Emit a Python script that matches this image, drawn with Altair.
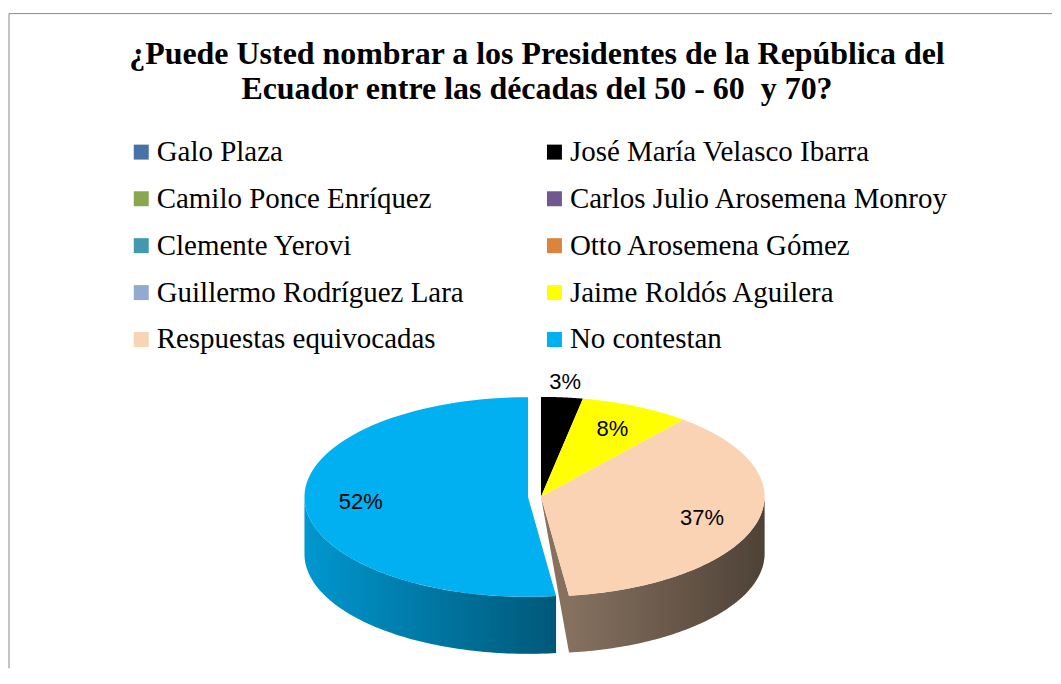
import altair as alt
import pandas as pd

# ---------------- data ----------------
categories = [
    "Galo Plaza",
    "José María Velasco Ibarra",
    "Camilo Ponce Enríquez",
    "Carlos Julio Arosemena Monroy",
    "Clemente Yerovi",
    "Otto Arosemena Gómez",
    "Guillermo Rodríguez Lara",
    "Jaime Roldós Aguilera",
    "Respuestas equivocadas",
    "No contestan",
]
values = [0, 3, 0, 0, 0, 0, 0, 8, 37, 52]
colors = ["#4672a8", "#000000", "#8aa64f", "#71588f", "#4198af",
          "#db843d", "#93a9cf", "#ffff00", "#f9d3b3", "#00b0f0"]
side_colors = ["#2d4b70", "#000000", "#5b6e33", "#4a3a5e", "#2a6474",
               "#915727", "#617089", "#9a9a00", "#86715f", "#0097cf"]
title_lines = [
    "¿Puede Usted nombrar a los Presidentes de la República del",
    "Ecuador entre las décadas del 50 - 60\u00a0 y 70?",
]

# legend shows entries row by row in two columns; Vega fills columns first,
# so the scale domain is interleaved (same categories, same colours)
ncol = 2
legend_idx = [i for c in range(ncol) for i in range(c, len(categories), ncol)]
legend_domain = [categories[i] for i in legend_idx]
legend_range = [colors[i] for i in legend_idx]

# ---------------- layout ----------------
W, H = 1045, 656
CX, CY = 533, 484      # centre of the pie's top face (view pixels)
A, B = 224, 100        # ellipse semi-axes
D = 57                 # depth of the 3-D side
E = 13                 # explode distance
N = 80                 # points per slice edge
EXPLODE = "No contestan"

df = pd.DataFrame({"cat": categories, "value": values, "ord": list(range(len(categories)))})

xs = alt.X("px:Q", scale=alt.Scale(domain=[0, W], nice=False, zero=False), axis=None)
ys = alt.Y("py:Q", scale=alt.Scale(domain=[0, H], nice=False, zero=False, reverse=True), axis=None)

base = (
    alt.Chart(df)
    .transform_window(cum="sum(value)", sort=[alt.SortField("ord")], frame=[None, 0])
    .transform_calculate(start="datum.cum - datum.value", end="datum.cum")
    .transform_filter("datum.value > 0")
    .transform_calculate(mid="(datum.start + datum.end) * PI / 100")
    .transform_calculate(
        ox=f"datum.cat == '{EXPLODE}' ? {E} * sin(datum.mid) : 0",
        oy=f"datum.cat == '{EXPLODE}' ? -{E} * cos(datum.mid) * {B / A} : 0",
    )
)

# side walls (front half of the pie only)
side_data = (
    base.transform_calculate(s0="max(datum.start, 25)", s1="min(datum.end, 75)")
    .transform_filter("datum.s1 > datum.s0")
    .transform_calculate(pts=f"sequence(0, {2 * N + 2})")
    .transform_flatten(["pts"], as_=["idx"])
    .transform_calculate(j=f"datum.idx <= {N} ? datum.idx : {2 * N + 1} - datum.idx")
    .transform_calculate(t=f"(datum.s0 + (datum.s1 - datum.s0) * datum.j / {N}) * 2 * PI / 100")
    .transform_calculate(
        px=f"{CX} + datum.ox + {A} * sin(datum.t)",
        py=f"{CY} + datum.oy - {B} * cos(datum.t) + (datum.idx > {N} ? {D} : 0)",
    )
)

side = side_data.mark_line(filled=True, interpolate="linear-closed", strokeWidth=0).encode(
    x=xs, y=ys,
    color=alt.Color("cat:N", scale=alt.Scale(domain=categories, range=side_colors), legend=None),
    detail="cat:N",
    order="idx:Q",
)

shade = side_data.mark_line(
    filled=True,
    interpolate="linear-closed",
    strokeWidth=0,
    color=alt.LinearGradient(
        gradient="linear",
        x1=0, x2=1, y1=0, y2=0,
        stops=[
            alt.GradientStop(color="rgba(0,0,0,0)", offset=0),
            alt.GradientStop(color="rgba(0,0,0,0.42)", offset=1),
        ],
    ),
).encode(x=xs, y=ys, detail="cat:N", order="idx:Q")

# cut face exposed by the exploded slice
cut = (
    base.transform_window(nxt="lead(cat)", sort=[alt.SortField("ord")])
    .transform_filter(f"datum.nxt == '{EXPLODE}'")
    .transform_calculate(pts="sequence(0, 3)")
    .transform_flatten(["pts"], as_=["idx"])
    .transform_calculate(te="datum.end * 2 * PI / 100")
    .transform_calculate(
        px=f"{CX} + (datum.idx > 0 ? {A} * sin(datum.te) : 0)",
        py=f"{CY} - (datum.idx > 0 ? {B} * cos(datum.te) : 0) + (datum.idx == 2 ? {D} : 0)",
    )
    .mark_line(filled=True, interpolate="linear-closed", strokeWidth=0)
    .encode(
        x=xs, y=ys,
        color=alt.Color("cat:N", scale=alt.Scale(domain=categories, range=side_colors), legend=None),
        detail="cat:N",
        order="idx:Q",
    )
)

# top faces
top = (
    base.transform_calculate(pts=f"sequence(-1, {N + 1})")
    .transform_flatten(["pts"], as_=["idx"])
    .transform_calculate(t=f"(datum.start + (datum.end - datum.start) * max(datum.idx, 0) / {N}) * 2 * PI / 100")
    .transform_calculate(
        px=f"{CX} + datum.ox + (datum.idx < 0 ? 0 : {A} * sin(datum.t))",
        py=f"{CY} + datum.oy - (datum.idx < 0 ? 0 : {B} * cos(datum.t))",
    )
    .mark_line(filled=True, interpolate="linear-closed", strokeWidth=0)
    .encode(
        x=xs, y=ys,
        color=alt.Color(
            "cat:N",
            scale=alt.Scale(domain=legend_domain, range=legend_range),
            legend=alt.Legend(
                title=None,
                orient="none",
                legendX=118,
                legendY=124,
                columns=ncol,
                symbolType="square",
                symbolSize=225,
                symbolStrokeWidth=0,
                symbolOpacity=1,
                labelFont="Liberation Serif",
                labelFontSize=29,
                labelColor="black",
                labelLimit=600,
                labelOffset=1,
                columnPadding=76,
                rowPadding=17,
                padding=0,
            ),
        ),
        detail="cat:N",
        order="idx:Q",
    )
)

labels = (
    base.transform_calculate(r="datum.value < 5 ? 1.15 : 0.75")
    .transform_calculate(
        px=f"{CX} + datum.ox + {A} * datum.r * sin(datum.mid)",
        py=f"{CY} + datum.oy - {B} * datum.r * cos(datum.mid)",
        lab="datum.value + '%'",
    )
    .mark_text(font="Liberation Sans", fontSize=22, color="black")
    .encode(x=xs, y=ys, text="lab:N")
)

title_layers = [
    alt.Chart(pd.DataFrame({"t": [line]}))
    .mark_text(font="Liberation Serif", fontSize=32, fontWeight="bold", color="black")
    .encode(x=alt.value(529), y=alt.value(40 + 36 * i), text="t:N")
    for i, line in enumerate(title_lines)
]

frame_df = pd.DataFrame({"k": [0]})
border_top = alt.Chart(frame_df).mark_rule(color="#8a8a8a", strokeWidth=1).encode(
    x=alt.value(0), x2=alt.value(W), y=alt.value(0)
)
border_left = alt.Chart(frame_df).mark_rule(color="#8a8a8a", strokeWidth=1).encode(
    x=alt.value(0), y=alt.value(0), y2=alt.value(H)
)

chart = (
    alt.layer(border_top, border_left, side, shade, cut, top, labels, *title_layers)
    .resolve_scale(color="independent")
    .properties(width=W, height=H, padding={"top": 4, "left": 0, "right": 0, "bottom": 0})
    .configure_view(strokeWidth=0)
)

chart.save("out.html", embed_options={"renderer": "svg", "actions": False})
